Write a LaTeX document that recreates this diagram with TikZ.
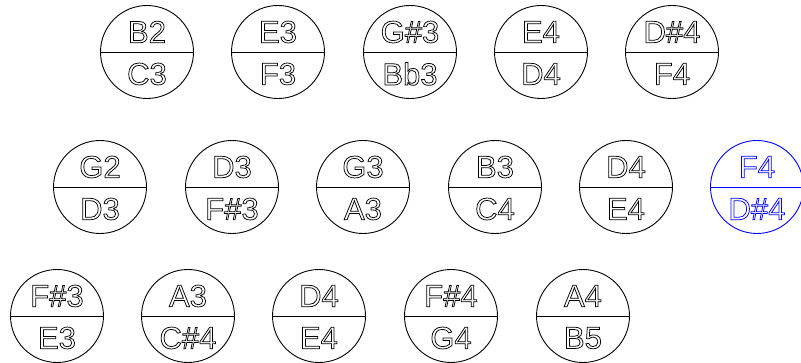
\documentclass[tikz,border=0pt]{standalone}
\usepackage{fontspec}
\setmainfont{Liberation Sans}
\newcommand{\hollow}[1]{\special{pdf:literal direct 1 Tr}#1\special{pdf:literal direct 0 Tr}}
\tikzset{
  note/.style={circle, draw, line width=0.9pt, minimum size=93pt, inner sep=0pt},
  lbl/.style={font=\fontsize{31}{31}\selectfont, inner sep=0pt, line width=0.75pt},
}
\newcommand{\notepair}[5][black]{%
  \node[note, draw=#1] (#2) at #3 {};
  \draw[line width=0.9pt, #1] (#2.west) -- (#2.east);
  \node[lbl, text=#1] (#2-up) at ([yshift=20pt]#2.center) {\hollow{#4}};
  \node[lbl, text=#1] (#2-dn) at ([yshift=-22pt]#2.center) {\hollow{#5}};
}
\begin{document}
\begin{tikzpicture}[x=1pt,y=-1pt]
\useasboundingbox (0,0) rectangle (801,363);
\clip (0,0) rectangle (801,363);
% row 1
\notepair{a1}{(147,52)}{B2}{C3}
\notepair{a2}{(278,52)}{E3}{F3}
\notepair{a3}{(410,52)}{G\#3}{Bb3}
\notepair{a4}{(541,52)}{E4}{D4}
\notepair{a5}{(672,52)}{D\#4}{F4}
% row 2
\notepair{b1}{(100,187)}{G2}{D3}
\notepair{b2}{(232,187)}{D3}{F\#3}
\notepair{b3}{(363,187)}{G3}{A3}
\notepair{b4}{(495,187)}{B3}{C4}
\notepair{b5}{(626,187)}{D4}{E4}
\notepair[blue]{b6}{(757,187)}{F4}{D\#4}
% row 3
\notepair{c1}{(57,316)}{F\#3}{E3}
\notepair{c2}{(188,316)}{A3}{C\#4}
\notepair{c3}{(319,316)}{D4}{E4}
\notepair{c4}{(451,316)}{F\#4}{G4}
\notepair{c5}{(583,316)}{A4}{B5}
\end{tikzpicture}
\end{document}
